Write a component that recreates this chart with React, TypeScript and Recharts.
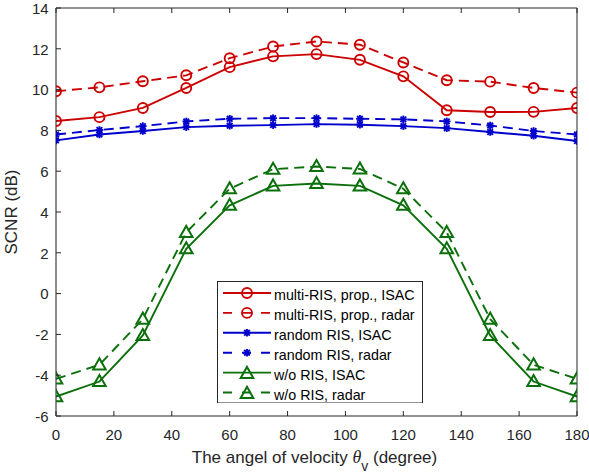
import React from 'react';
import { LineChart, Line, XAxis, YAxis, CartesianGrid, Legend } from 'recharts';

const angles = [0, 15, 30, 45, 60, 75, 90, 105, 120, 135, 150, 165, 180];
const multiIsac = [8.46, 8.65, 9.1, 10.08, 11.1, 11.63, 11.74, 11.46, 10.65, 8.99, 8.9, 8.91, 9.1];
const multiRadar = [9.92, 10.11, 10.41, 10.7, 11.54, 12.11, 12.36, 12.2, 11.33, 10.46, 10.39, 10.08, 9.85];
const randIsac = [7.51, 7.8, 7.97, 8.16, 8.23, 8.26, 8.31, 8.28, 8.21, 8.11, 7.92, 7.74, 7.48];
const randRadar = [7.8, 8.02, 8.21, 8.44, 8.57, 8.6, 8.6, 8.57, 8.54, 8.44, 8.24, 7.97, 7.8];
const woIsac = [-5.05, -4.31, -2.05, 2.2, 4.33, 5.28, 5.4, 5.28, 4.33, 2.2, -2.05, -4.31, -5.05];
const woRadar = [-4.18, -3.49, -1.25, 3.0, 5.14, 6.1, 6.23, 6.11, 5.14, 3.0, -1.25, -3.49, -4.18];

const xTicks = [0, 20, 40, 60, 80, 100, 120, 140, 160, 180];
const yTicks = [-6, -4, -2, 0, 2, 4, 6, 8, 10, 12, 14];

const RED = '#cc0000';
const BLUE = '#0000cc';
const GREEN = '#0b700b';
const AX = '#262626';
const FONT = '"Liberation Sans", Arial, Helvetica, sans-serif';
const DASH = '10 6';
const LW = 1.9;

type Marker = 'circle' | 'star' | 'tri';

const series: { key: string; name: string; color: string; dashed: boolean; marker: Marker; values: number[] }[] = [
  { key: 'mi', name: 'multi-RIS, prop., ISAC', color: RED, dashed: false, marker: 'circle', values: multiIsac },
  { key: 'mr', name: 'multi-RIS, prop., radar', color: RED, dashed: true, marker: 'circle', values: multiRadar },
  { key: 'ri', name: 'random RIS, ISAC', color: BLUE, dashed: false, marker: 'star', values: randIsac },
  { key: 'rr', name: 'random RIS, radar', color: BLUE, dashed: true, marker: 'star', values: randRadar },
  { key: 'wi', name: 'w/o RIS, ISAC', color: GREEN, dashed: false, marker: 'tri', values: woIsac },
  { key: 'wr', name: 'w/o RIS, radar', color: GREEN, dashed: true, marker: 'tri', values: woRadar },
];

const data = angles.map((a, i) => {
  const row: Record<string, number> = { angle: a };
  series.forEach((s) => {
    row[s.key] = s.values[i];
  });
  return row;
});

function MarkerShape({ cx, cy, type, color }: { cx: number; cy: number; type: Marker; color: string }) {
  if (cx == null || cy == null) return null;
  if (type === 'circle') {
    return <circle cx={cx} cy={cy} r={5} fill="none" stroke={color} strokeWidth={LW} />;
  }
  if (type === 'star') {
    const s = 3.8;
    const d = 2.8;
    return (
      <g stroke={color} strokeWidth={LW} fill="none">
        <line x1={cx - d} y1={cy - d} x2={cx + d} y2={cy + d} />
        <line x1={cx - d} y1={cy + d} x2={cx + d} y2={cy - d} />
        <line x1={cx} y1={cy - s} x2={cx} y2={cy + s} />
        <line x1={cx - s} y1={cy} x2={cx + s} y2={cy} />
      </g>
    );
  }
  return (
    <polygon
      points={`${cx},${cy - 6.5} ${cx + 6.3},${cy + 4.6} ${cx - 6.3},${cy + 4.6}`}
      fill="none"
      stroke={color}
      strokeWidth={2}
      strokeLinejoin="miter"
    />
  );
}

const TICK_LEN = 5;

const BottomTick = (props: any) => {
  const { x, y, payload } = props;
  return (
    <g>
      <line x1={x} y1={y} x2={x} y2={y - TICK_LEN} stroke={AX} strokeWidth={1} />
      <text x={x} y={y + 24} textAnchor="middle" fontFamily={FONT} fontSize={15} fill={AX}>
        {payload.value}
      </text>
    </g>
  );
};

const TopTick = (props: any) => {
  const { x, y } = props;
  return <line x1={x} y1={y} x2={x} y2={y + TICK_LEN} stroke={AX} strokeWidth={1} />;
};

const LeftTick = (props: any) => {
  const { x, y, payload } = props;
  return (
    <g>
      <line x1={x} y1={y} x2={x + TICK_LEN} y2={y} stroke={AX} strokeWidth={1} />
      <text x={x - 7.3} y={y + 5.8} textAnchor="end" fontFamily={FONT} fontSize={15} fill={AX}>
        {payload.value}
      </text>
    </g>
  );
};

const RightTick = (props: any) => {
  const { x, y } = props;
  return <line x1={x} y1={y} x2={x - TICK_LEN} y2={y} stroke={AX} strokeWidth={1} />;
};

const XLabel = (props: any) => {
  const vb = props.viewBox || {};
  const cx = (vb.x || 0) + (vb.width || 0) / 2 - 2;
  return (
    <text x={cx} y={463.3} textAnchor="middle" fontFamily={FONT} fontSize={17} fill={AX}>
      The angel of velocity{' '}
      <tspan fontFamily='"Liberation Serif", "Times New Roman", serif' fontStyle="italic" fontSize={18}>θ</tspan>
      <tspan dy={8} fontSize={14}>v</tspan>
      <tspan dy={-8}> (degree)</tspan>
    </text>
  );
};

const YLabel = (props: any) => {
  const vb = props.viewBox || {};
  const cy = (vb.y || 0) + (vb.height || 0) / 2;
  return (
    <text
      x={16.5}
      y={cy}
      transform={`rotate(-90, 16.5, ${cy})`}
      textAnchor="middle"
      fontFamily={FONT}
      fontSize={17}
      fill={AX}
    >
      SCNR (dB)
    </text>
  );
};

const LEG_W = 205;
const LEG_H = 121.5;

const LegendBox = () => (
  <svg width={LEG_W + 1} height={LEG_H + 1} style={{ display: 'block' }}>
    <rect x={0.5} y={0.5} width={LEG_W} height={LEG_H} fill="#ffffff" stroke={AX} strokeWidth={1} />
    {series.map((s, i) => {
      const ly = 12 + 19.9 * i;
      return (
        <g key={s.key}>
          <line
            x1={6}
            y1={ly}
            x2={54}
            y2={ly}
            stroke={s.color}
            strokeWidth={LW}
            strokeDasharray={s.dashed ? '9 10' : undefined}
          />
          <MarkerShape cx={30} cy={s.marker === 'tri' ? ly + 0.8 : ly} type={s.marker} color={s.color} />
          <text x={57} y={ly + 7} fontFamily={FONT} fontSize={14.3} fill="#000">
            {s.name}
          </text>
        </g>
      );
    })}
  </svg>
);

export default function App() {
  return (
    <div style={{ position: 'absolute', left: 0, top: 0, width: 589, height: 473, background: '#fff' }}>
      <LineChart
        width={589}
        height={473}
        data={data}
        margin={{ top: 7, right: 11, bottom: 27, left: 16 }}
      >
        <CartesianGrid stroke="#e4e4e4" strokeWidth={1} horizontalValues={yTicks} verticalValues={xTicks} />
        <XAxis
          xAxisId="b"
          dataKey="angle"
          type="number"
          domain={[0, 180]}
          ticks={xTicks}
          height={30}
          tickSize={0}
          tickMargin={0}
          axisLine={{ stroke: AX, strokeWidth: 1 }}
          tickLine={false}
          tick={<BottomTick />}
          interval={0}
          label={<XLabel />}
          allowDataOverflow
        />
        <XAxis
          xAxisId="t"
          orientation="top"
          dataKey="angle"
          type="number"
          domain={[0, 180]}
          ticks={xTicks}
          height={1}
          tickSize={0}
          tickMargin={0}
          axisLine={{ stroke: AX, strokeWidth: 1 }}
          tickLine={false}
          tick={<TopTick />}
          interval={0}
        />
        <YAxis
          yAxisId="l"
          type="number"
          domain={[-6, 14]}
          ticks={yTicks}
          width={40}
          tickSize={0}
          tickMargin={0}
          axisLine={{ stroke: AX, strokeWidth: 1 }}
          tickLine={false}
          tick={<LeftTick />}
          interval={0}
          label={<YLabel />}
          allowDataOverflow
        />
        <YAxis
          yAxisId="r"
          orientation="right"
          type="number"
          domain={[-6, 14]}
          ticks={yTicks}
          width={1}
          tickSize={0}
          tickMargin={0}
          axisLine={{ stroke: AX, strokeWidth: 1 }}
          tickLine={false}
          tick={<RightTick />}
          interval={0}
        />
        {series.map((s) => (
          <Line
            key={s.key}
            xAxisId="b"
            yAxisId="l"
            type="linear"
            dataKey={s.key}
            name={s.name}
            stroke={s.color}
            strokeWidth={LW}
            strokeDasharray={s.dashed ? DASH : undefined}
            isAnimationActive={false}
            dot={(p: any) => <MarkerShape key={`${s.key}-${p.index}`} cx={p.cx} cy={p.cy} type={s.marker} color={s.color} />}
            activeDot={false}
          />
        ))}
        <Legend
          layout="vertical"
          align="center"
          verticalAlign="middle"
          content={<LegendBox />}
          wrapperStyle={{ position: 'absolute', left: 217, top: 280.5, width: LEG_W + 1, height: LEG_H + 1 }}
        />
      </LineChart>
    </div>
  );
}
